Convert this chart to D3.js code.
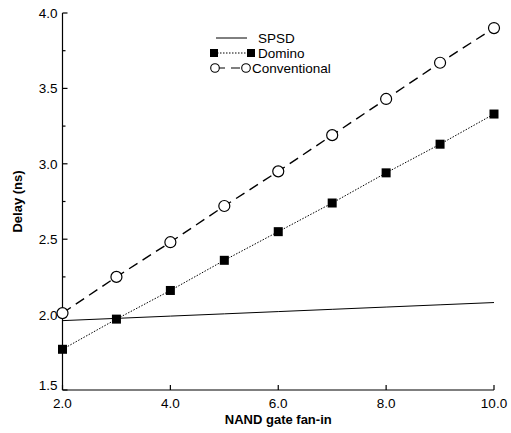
<!DOCTYPE html>
<html>
<head>
<meta charset="utf-8">
<script src="https://d3js.org/d3.v7.min.js"></script>
<style>
  body { margin: 0; background: #fff; }
  text { font-family: "Liberation Sans", Arial, sans-serif; fill: #000; }
  .tick-label { font-size: 13.5px; }
  .axis-title { font-size: 13px; font-weight: bold; }
  .legend text { font-size: 13.5px; }
</style>
</head>
<body>
<div id="chart"></div>
<script>
// Data
const fanIn = [2, 3, 4, 5, 6, 7, 8, 9, 10];
const spsd = [1.96, 1.975, 1.99, 2.005, 2.02, 2.035, 2.05, 2.065, 2.08];
const domino = [1.77, 1.97, 2.16, 2.36, 2.55, 2.74, 2.94, 3.13, 3.33];
const conventional = [2.01, 2.25, 2.48, 2.72, 2.95, 3.19, 3.43, 3.67, 3.90];
const xTicks = [2, 4, 6, 8, 10];
const yTicks = [1.5, 2.0, 2.5, 3.0, 3.5, 4.0];
const yMinor = [1.75, 2.25, 2.75, 3.25, 3.75];

const width = 511, height = 433;
const svg = d3.select("#chart").append("svg")
  .attr("width", width).attr("height", height);

const x = d3.scaleLinear().domain([2, 10]).range([62.5, 494]);
const y = d3.scaleLinear().domain([1.5, 4.0]).range([390, 13]);

// axes
const axis = svg.append("g").attr("stroke", "#000").attr("stroke-width", 1.2).attr("fill", "none");
axis.append("line").attr("x1", x(2)).attr("x2", x(10)).attr("y1", y(1.5)).attr("y2", y(1.5));
axis.append("line").attr("x1", x(2)).attr("x2", x(2)).attr("y1", y(1.5)).attr("y2", y(4));

axis.selectAll(".xt").data(xTicks).enter().append("line")
  .attr("x1", d => x(d)).attr("x2", d => x(d))
  .attr("y1", y(1.5)).attr("y2", y(1.5) - 5);
axis.selectAll(".yt").data(yTicks).enter().append("line")
  .attr("x1", x(2)).attr("x2", x(2) + 5)
  .attr("y1", d => y(d)).attr("y2", d => y(d));
axis.selectAll(".ym").data(yMinor).enter().append("line")
  .attr("x1", x(2)).attr("x2", x(2) + 3)
  .attr("y1", d => y(d)).attr("y2", d => y(d));

svg.selectAll(".xl").data(xTicks).enter().append("text")
  .attr("class", "tick-label")
  .attr("x", d => x(d)).attr("y", y(1.5) + 18)
  .attr("text-anchor", "middle")
  .text(d => d.toFixed(1));

svg.selectAll(".yl").data(yTicks).enter().append("text")
  .attr("class", "tick-label")
  .attr("x", x(2) - 5).attr("y", d => y(d) + (d === 1.5 ? 0 : 5))
  .attr("text-anchor", "end")
  .text(d => d.toFixed(1));

svg.append("text").attr("class", "axis-title")
  .attr("x", (x(2) + x(10)) / 2).attr("y", 424)
  .attr("text-anchor", "middle")
  .text("NAND gate fan-in");

svg.append("text").attr("class", "axis-title")
  .attr("transform", `translate(22,${y(2.75)}) rotate(-90)`)
  .attr("text-anchor", "middle")
  .text("Delay (ns)");

// lines
const line = vals => d3.line().x((d, i) => x(fanIn[i])).y(d => y(d))(vals);

svg.append("path").attr("d", line(spsd))
  .attr("fill", "none").attr("stroke", "#000").attr("stroke-width", 1);
svg.append("path").attr("d", line(domino))
  .attr("fill", "none").attr("stroke", "#000").attr("stroke-width", 1)
  .attr("stroke-dasharray", "1.5,1.5");
svg.append("path").attr("d", line(conventional))
  .attr("fill", "none").attr("stroke", "#000").attr("stroke-width", 1.4)
  .attr("stroke-dasharray", "10,6");

// markers
const sq = 9;
svg.selectAll(".dom").data(domino).enter().append("rect")
  .attr("x", (d, i) => x(fanIn[i]) - sq / 2).attr("y", d => y(d) - sq / 2)
  .attr("width", sq).attr("height", sq).attr("fill", "#000");
svg.selectAll(".conv").data(conventional).enter().append("circle")
  .attr("cx", (d, i) => x(fanIn[i])).attr("cy", d => y(d)).attr("r", 5.5)
  .attr("fill", "#fff").attr("stroke", "#000").attr("stroke-width", 1.2);

// legend
const lg = svg.append("g").attr("class", "legend");
const rows = [38, 53, 68];
lg.append("line").attr("x1", 216).attr("x2", 247).attr("y1", rows[0]).attr("y2", rows[0])
  .attr("stroke", "#000").attr("stroke-width", 1);
lg.append("line").attr("x1", 214).attr("x2", 251).attr("y1", rows[1]).attr("y2", rows[1])
  .attr("stroke", "#000").attr("stroke-width", 1).attr("stroke-dasharray", "1.5,1.5");
[214, 251].forEach(px => lg.append("rect")
  .attr("x", px - 4).attr("y", rows[1] - 4).attr("width", 8).attr("height", 8).attr("fill", "#000"));
lg.append("line").attr("x1", 215).attr("x2", 246).attr("y1", rows[2]).attr("y2", rows[2])
  .attr("stroke", "#000").attr("stroke-width", 1.2).attr("stroke-dasharray", "9,6").attr("stroke-dashoffset", -1);
[215, 246].forEach(px => lg.append("circle")
  .attr("cx", px).attr("cy", rows[2]).attr("r", 4.3)
  .attr("fill", "#fff").attr("stroke", "#000").attr("stroke-width", 1.1));
const textX = [258, 258, 252];
["SPSD", "Domino", "Conventional"].forEach((t, i) => lg.append("text")
  .attr("x", textX[i]).attr("y", rows[i] + 5).text(t));
</script>
</body>
</html>
